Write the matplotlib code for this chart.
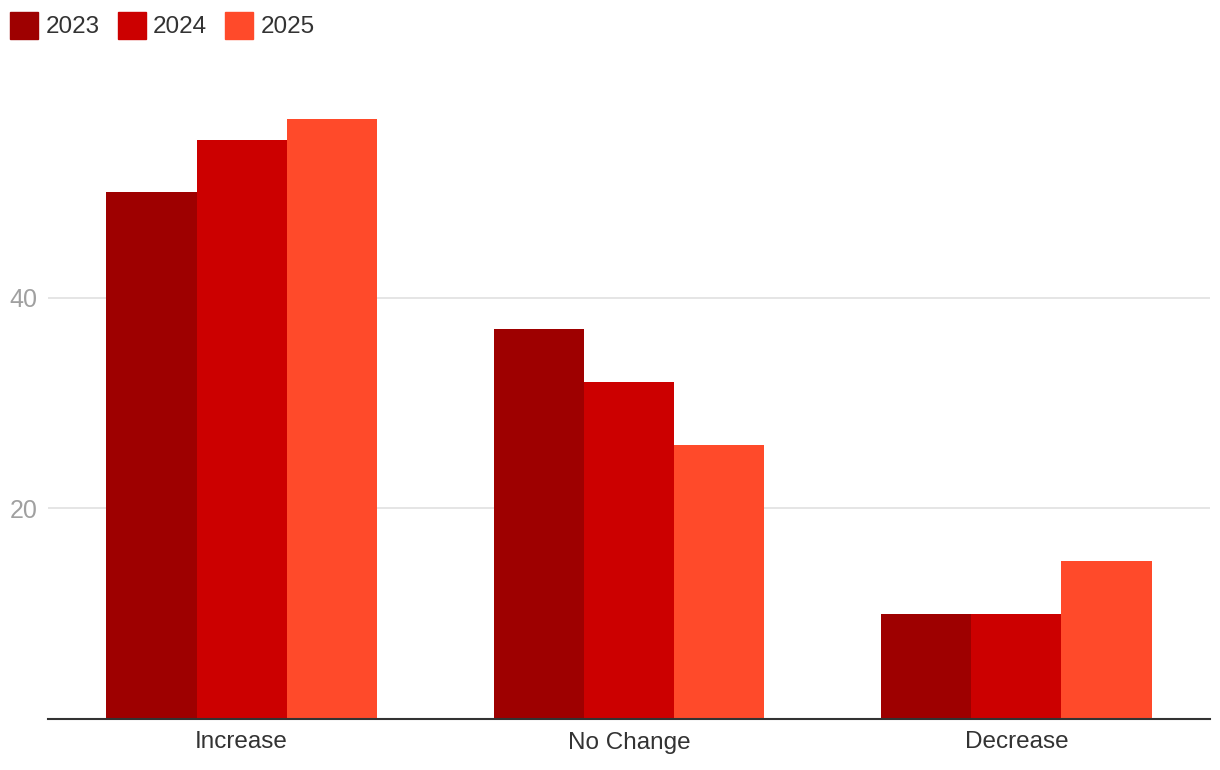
import numpy as np
import matplotlib.pyplot as plt
from matplotlib.patches import Patch

plt.rcParams['font.family'] = ['Liberation Sans', 'DejaVu Sans']

# 数据
categories = ['Increase', 'No Change', 'Decrease']
years = ['2023', '2024', '2025']
v2023 = [50, 37, 10]
v2024 = [55, 32, 10]
v2025 = [57, 26, 15]
colors = ['#9e0000', '#cc0000', '#ff4a2a']

fig = plt.figure(figsize=(12.2, 7.7), dpi=100)
ax = fig.add_axes([48 / 1220, 51 / 770, 1162 / 1220, (719 - 87) / 770])

x = np.arange(len(categories))
w = 0.233
for i, (vals, c) in enumerate(zip([v2023, v2024, v2025], colors)):
    ax.bar(x + (i - 1) * w, vals, width=w, color=c, zorder=2)

ax.set_xlim(-0.5, 2.5)
ax.set_ylim(0, 60)
ax.set_yticks([20, 40])
ax.yaxis.grid(True, color='#e0e0e0', linewidth=1.2, zorder=0)
ax.set_xticks(x)
ax.set_xticklabels(categories, fontsize=17.5, color='#333333')
ax.tick_params(axis='x', length=0, pad=9)
ax.tick_params(axis='y', length=0, labelsize=18, labelcolor='#a0a0a0', pad=7.5)

for s in ['top', 'right', 'left']:
    ax.spines[s].set_visible(False)
ax.spines['bottom'].set_color('#333333')
ax.spines['bottom'].set_linewidth(1.5)
ax.spines['bottom'].set_zorder(3)

handles = [Patch(color=c, label=y) for c, y in zip(colors, years)]
fig.legend(handles=handles, loc='upper left', bbox_to_anchor=(-0.0075, 1.01), ncol=3,
           frameon=False, fontsize=17.5, handlelength=1.15, handleheight=1.35,
           handletextpad=0.3, columnspacing=0.75, labelcolor='#333333',
           borderpad=0.3)

fig.savefig('out.png', dpi=100)
